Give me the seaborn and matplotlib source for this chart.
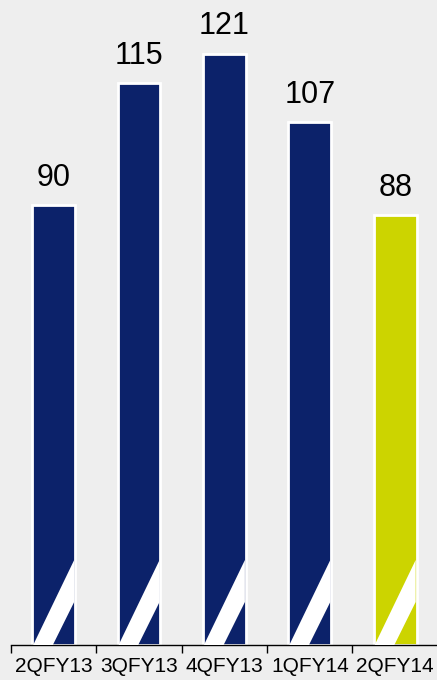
import matplotlib
matplotlib.use("Agg")
import matplotlib.pyplot as plt
import seaborn as sns
import pandas as pd
from matplotlib.patches import Polygon

categories = ["2QFY13", "3QFY13", "4QFY13", "1QFY14", "2QFY14"]
values = [90, 115, 121, 107, 88]
colors = ["#0c226a", "#0c226a", "#0c226a", "#0c226a", "#ccd400"]

sns.set_theme(style="white")
plt.rcParams['font.family'] = ['Liberation Sans', 'DejaVu Sans']

df = pd.DataFrame({"cat": categories, "val": values})

fig = plt.figure(figsize=(4.37, 6.8), dpi=100)
fig.patch.set_facecolor("#eeeeee")
ax = fig.add_axes([11/437, 35/680, 1 - 11/437 + 0.002, 1 - 35/680])
ax.set_facecolor("#eeeeee")

sns.barplot(data=df, x="cat", y="val", hue="cat", palette=colors, legend=False,
            width=0.5, edgecolor="white", linewidth=2, saturation=1, ax=ax)

ax.set_xlim(-0.5, 4.5)
ax.set_ylim(0, 132)

# white diagonal stripe near the bottom of each bar
for p in ax.patches:
    x0 = p.get_x()
    w = p.get_width()
    x1 = x0 + w
    poly = Polygon([(x0 + 0.02 * w, 0), (x0 + 0.48 * w, 0), (x1 - 0.02 * w, 8.8), (x1 - 0.02 * w, 17.4)],
                   closed=True, facecolor="white", edgecolor="none", zorder=3)
    ax.add_patch(poly)

for i, v in enumerate(values):
    ax.annotate(str(v), (i, v), xytext=(0, 9), textcoords="offset points",
                ha="center", va="bottom", fontsize=22, color="black")

for s in ["top", "right", "left"]:
    ax.spines[s].set_visible(False)
ax.spines["bottom"].set_color("black")
ax.spines["bottom"].set_linewidth(1)

ax.set_yticks([])
ax.set_xlabel("")
ax.set_ylabel("")
ax.set_xticks(range(len(categories)))
ax.set_xticklabels(categories, fontsize=15, color="black")
ax.set_xticks([-0.5, 0.5, 1.5, 2.5, 3.5, 4.5], minor=True)
ax.tick_params(axis="x", which="major", length=0, pad=9)
ax.tick_params(axis="x", which="minor", length=6, width=1, color="black", direction="out", bottom=True)

fig.savefig("out.png", dpi=100, facecolor=fig.get_facecolor())
